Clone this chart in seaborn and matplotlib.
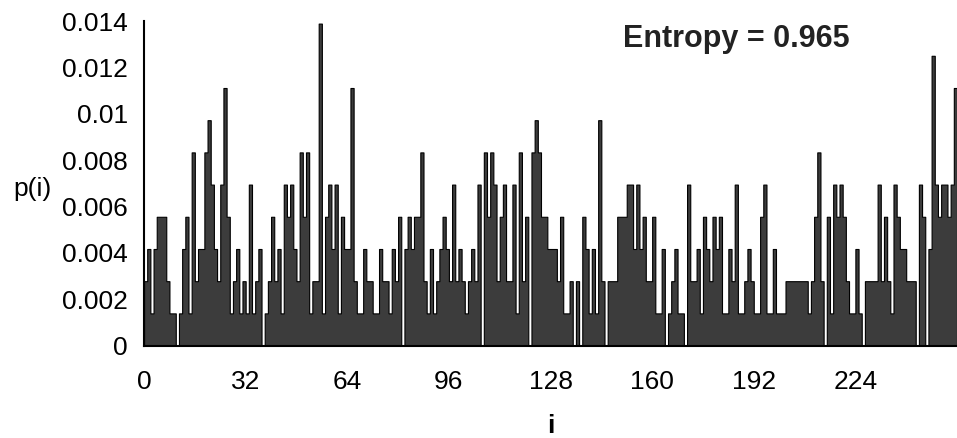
import numpy as np
import pandas as pd
import matplotlib
matplotlib.use("Agg")
import matplotlib.pyplot as plt
import seaborn as sns

# Histogram counts per grey level i = 0..255 (units of 1/720)
counts = [
    2, 3, 1, 3, 4, 4, 4, 2, 1, 1, 0, 1, 3, 4, 1, 6,
    2, 3, 3, 6, 7, 5, 3, 2, 5, 8, 4, 1, 2, 3, 1, 2,
    1, 5, 1, 2, 3, 0, 1, 2, 4, 2, 3, 1, 5, 4, 5, 3,
    2, 6, 4, 6, 1, 2, 2, 10, 1, 4, 5, 3, 5, 1, 4, 3,
    3, 8, 2, 1, 1, 3, 2, 2, 1, 1, 3, 2, 2, 1, 3, 2,
    4, 0, 3, 4, 3, 4, 4, 6, 2, 1, 3, 1, 2, 3, 4, 3,
    2, 5, 2, 3, 2, 1, 2, 3, 2, 5, 0, 6, 4, 6, 5, 2,
    4, 5, 2, 2, 5, 1, 6, 2, 4, 0, 6, 7, 6, 4, 4, 3,
    3, 3, 2, 4, 1, 1, 2, 0, 2, 0, 4, 3, 1, 3, 1, 7,
    2, 0, 2, 2, 2, 4, 4, 4, 5, 5, 3, 5, 3, 4, 2, 2,
    4, 1, 1, 3, 0, 1, 2, 3, 1, 1, 0, 5, 2, 2, 3, 1,
    4, 3, 2, 4, 3, 4, 1, 1, 3, 2, 5, 1, 1, 2, 3, 2,
    1, 1, 4, 5, 1, 1, 3, 1, 1, 1, 2, 2, 2, 2, 2, 2,
    2, 1, 2, 4, 6, 2, 0, 4, 1, 5, 4, 5, 4, 2, 1, 1,
    3, 1, 0, 2, 2, 2, 2, 5, 2, 4, 2, 1, 5, 4, 3, 3,
    2, 2, 2, 0, 5, 4, 0, 3, 9, 5, 4, 5, 5, 4, 5, 8,
]
n_samples = 720

xtick_values = [0, 32, 64, 96, 128, 160, 192, 224]
ytick_values = [0, 0.002, 0.004, 0.006, 0.008, 0.01, 0.012, 0.014]
ytick_labels = ['0', '0.002', '0.004', '0.006', '0.008', '0.01', '0.012', '0.014']
entropy_label = 'Entropy = 0.965'

df = pd.DataFrame({'i': np.arange(len(counts)) + 0.5,
                   'p': np.array(counts) / n_samples})

sns.set_style('white')
plt.rcParams['font.family'] = ['Liberation Sans', 'DejaVu Sans']
plt.rcParams['text.color'] = 'black'
plt.rcParams['xtick.color'] = 'black'
plt.rcParams['ytick.color'] = 'black'

fig = plt.figure(figsize=(9.57, 4.38), dpi=100)
ax = fig.add_axes([0.1505, 0.211, 0.8495, 0.741])

sns.histplot(data=df, x='i', weights='p', binwidth=1, binrange=(0, len(counts)),
             stat='count', element='step', fill=True, color='#3c3c3c',
             edgecolor='black', linewidth=0.8, alpha=1, ax=ax)

ax.set_xlim(0, 256)
ax.set_ylim(0, 0.014)
ax.set_xlabel('')
ax.set_ylabel('')

ax.set_xticks(xtick_values)
ax.set_xticklabels([str(v) for v in xtick_values])
ax.set_yticks(ytick_values)
ax.set_yticklabels(ytick_labels)

ax.tick_params(axis='y', direction='inout', length=7, width=1.2, pad=8,
               labelsize=19, color='black', labelcolor='black')
ax.tick_params(axis='x', direction='inout', length=7, width=1.1, pad=14,
               labelsize=19, color='black', labelcolor='black')

for side in ['top', 'right']:
    ax.spines[side].set_visible(False)
for side in ['left', 'bottom']:
    ax.spines[side].set_color('black')
    ax.spines[side].set_linewidth(1.5)

ax.text(0.728, 0.945, entropy_label, transform=ax.transAxes, ha='center',
        va='center', fontsize=22, fontweight='bold', color='#222222')
fig.text(0.034, 0.568, 'p(i)', ha='center', va='center', fontsize=19)
fig.text(0.5755, 0.028, 'i', ha='center', va='center', fontsize=19,
         fontweight='bold')

fig.savefig('out.png', dpi=100)
